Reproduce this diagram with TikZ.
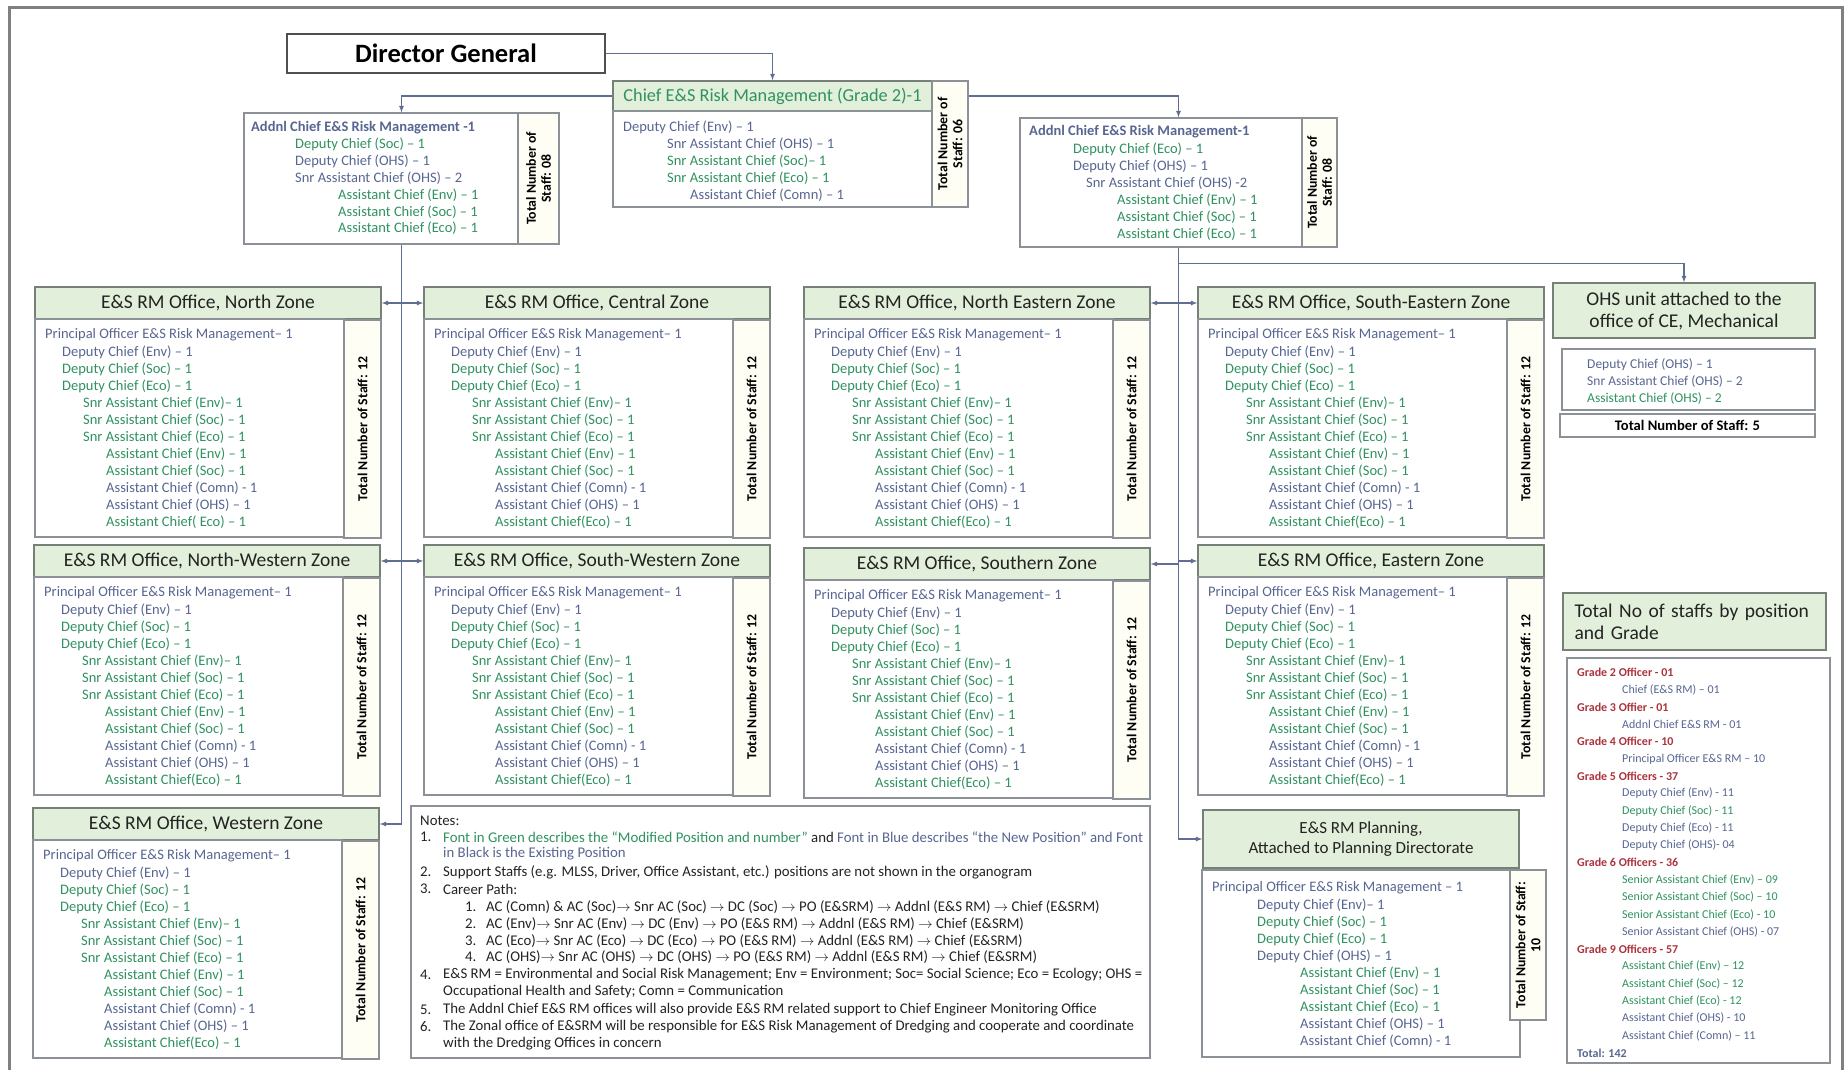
\documentclass[tikz,border=0pt]{standalone}
\usepackage{fontspec}
\setmainfont{Carlito}

\definecolor{newblue}{RGB}{88,102,146}
\definecolor{modgreen}{RGB}{48,146,96}
\definecolor{gradered}{RGB}{172,52,62}
\definecolor{hdrfill}{RGB}{226,239,218}
\definecolor{hdrline}{RGB}{118,128,118}
\definecolor{boxline}{RGB}{140,145,152}
\definecolor{wirecol}{RGB}{95,110,145}
\definecolor{darktext}{RGB}{35,35,35}

\tikzset{
  hdr/.style={draw=hdrline, fill=hdrfill, line width=1.4, text=darktext, align=center, inner sep=2,
    font=\fontsize{19.5}{22}\selectfont},
  bodybox/.style={draw=boxline, fill=white, line width=1.2},
  staffcol/.style={draw=boxline, fill=white!96!yellow, line width=1.2},
  stafftxt/.style={font=\fontsize{13.8}{15}\selectfont\bfseries, text=black, align=center, inner sep=0},
  txt/.style={anchor=west, inner sep=0, font=\fontsize{14.5}{17}\selectfont},
  wire/.style={draw=wirecol, line width=1.2, >=latex},
}

% one zonal office: header, list of posts, staff column
\newcommand{\zoneoffice}[5]{%
  \node[hdr, minimum width=346, minimum height=32] (#1) at (#2+173,#3+16) {#4};
  \node[bodybox, minimum width=309, minimum height=218] (#1-body) at (#2+154.5,#3+141) {};
  \node[staffcol, minimum width=37, minimum height=218] (#1-staff) at (#2+327.5,#3+142) {};
  \node[stafftxt, rotate=90] (#1-total) at (#1-staff) {Total Number of Staff: 12};
  \foreach \xx/\lc/\words [count=\i] in {10/newblue/Principal Officer E\&S Risk Management– 1,
      27/newblue/Deputy Chief (Env) – 1, 27/modgreen/Deputy Chief (Soc) – 1, 27/modgreen/Deputy Chief (Eco) – 1,
      48/modgreen/Snr Assistant Chief (Env)– 1, 48/modgreen/Snr Assistant Chief (Soc) – 1,
      48/modgreen/Snr Assistant Chief (Eco) – 1, 71/modgreen/Assistant Chief (Env) – 1,
      71/modgreen/Assistant Chief (Soc) – 1, 71/newblue/Assistant Chief (Comn) - 1,
      71/newblue/Assistant Chief (OHS) – 1, 71/modgreen/#5}
    \node[txt, text=\lc] (#1-\i) at (#2+\xx,#3+31+17*\i) {\words};
}

\begin{document}
\begin{tikzpicture}[x=1pt, y=-1pt]
\useasboundingbox (0,0) rectangle (1846,1070);
\draw[line width=3, draw=gray] (9,1070) -- (9,8) -- (1842,8) -- (1842,1070);

% top of the chart
\node[draw=darktext!80, fill=white, line width=1.3, minimum width=318, minimum height=39,
  font=\fontsize{26.5}{28}\selectfont\bfseries] (dg) at (446,53.5) {Director General};

\node[hdr, minimum width=319, minimum height=30, text=modgreen, font=\fontsize{18.3}{20}\selectfont]
  (chief) at (772.5,96) {Chief E\&S Risk Management (Grade 2)-1};
\node[bodybox, minimum width=319, minimum height=96] (chief-body) at (772.5,159) {};
\node[staffcol, minimum width=36, minimum height=126] (chief-staff) at (950,144) {};
\node[stafftxt, rotate=90] (chief-total) at (chief-staff) {Total Number of\\Staff: 06};
\foreach \xx/\lc/\words [count=\i] in {623/newblue/Deputy Chief (Env) – 1,
    667/newblue/Snr Assistant Chief (OHS) – 1, 667/modgreen/Snr Assistant Chief (Soc)– 1,
    667/modgreen/Snr Assistant Chief (Eco) – 1, 690/newblue/Assistant Chief (Comn) – 1}
  \node[txt, text=\lc] (chief-\i) at (\xx,110+17*\i) {\words};

% additional chiefs
\node[bodybox, minimum width=315, minimum height=131] (addnlL) at (401.5,178.5) {};
\node[staffcol, minimum width=41, minimum height=131] (addnlL-staff) at (538.5,178.5) {};
\node[stafftxt, rotate=90] (addnlL-total) at (addnlL-staff) {Total Number of\\Staff: 08};
\foreach \xx/\lc/\words [count=\i] in {251/newblue/\textbf{Addnl Chief E\&S Risk Management -1},
    295/modgreen/Deputy Chief (Soc) – 1, 295/newblue/Deputy Chief (OHS) – 1,
    295/newblue/Snr Assistant Chief (OHS) – 2, 338/modgreen/Assistant Chief (Env) – 1,
    338/modgreen/Assistant Chief (Soc) – 1, 338/modgreen/Assistant Chief (Eco) – 1}
  \node[txt, text=\lc] (addnlL-\i) at (\xx,111+16.8*\i) {\words};

\node[bodybox, minimum width=317, minimum height=129] (addnlR) at (1178.5,182.5) {};
\node[staffcol, minimum width=35, minimum height=129] (addnlR-staff) at (1319.5,182.5) {};
\node[stafftxt, rotate=90] (addnlR-total) at (addnlR-staff) {Total Number of\\Staff: 08};
\foreach \xx/\lc/\words [count=\i] in {1029/newblue/\textbf{Addnl Chief E\&S Risk Management-1},
    1073/modgreen/Deputy Chief (Eco) – 1, 1073/newblue/Deputy Chief (OHS) – 1,
    1086/newblue/Snr Assistant Chief (OHS) -2, 1117/modgreen/Assistant Chief (Env) – 1,
    1117/modgreen/Assistant Chief (Soc) – 1, 1117/modgreen/Assistant Chief (Eco) – 1}
  \node[txt, text=\lc] (addnlR-\i) at (\xx,115+17*\i) {\words};

% zonal offices
\zoneoffice{nzone}{35}{287}{E\&S RM Office, North Zone}{Assistant Chief( Eco) – 1}
\zoneoffice{czone}{424}{287}{E\&S RM Office, Central Zone}{Assistant Chief(Eco) – 1}
\zoneoffice{nezone}{804}{287}{E\&S RM Office, North Eastern Zone}{Assistant Chief(Eco) – 1}
\zoneoffice{sezone}{1198}{287}{E\&S RM Office, South-Eastern Zone}{Assistant Chief(Eco) – 1}
\zoneoffice{nwzone}{34}{545}{E\&S RM Office, North-Western Zone}{Assistant Chief(Eco) – 1}
\zoneoffice{swzone}{424}{545}{E\&S RM Office, South-Western Zone}{Assistant Chief(Eco) – 1}
\zoneoffice{szone}{804}{548}{E\&S RM Office, Southern Zone}{Assistant Chief(Eco) – 1}
\zoneoffice{ezone}{1198}{545}{E\&S RM Office, Eastern Zone}{Assistant Chief(Eco) – 1}
\zoneoffice{wzone}{33}{808}{E\&S RM Office, Western Zone}{Assistant Chief(Eco) – 1}

% OHS unit
\node[hdr, minimum width=262, minimum height=55] (ohs) at (1684,310.5) {OHS unit attached to the\\office of CE, Mechanical};
\node[bodybox, minimum width=253, minimum height=61] (ohs-body) at (1688.5,379.5) {};
\foreach \lc/\words [count=\i] in {newblue/Deputy Chief (OHS) – 1, newblue/Snr Assistant Chief (OHS) – 2,
    modgreen/Assistant Chief (OHS) – 2}
  \node[txt, text=\lc, font=\fontsize{13.5}{16}\selectfont] (ohs-\i) at (1587,348.5+16.5*\i) {\words};
\node[bodybox, minimum width=255, minimum height=23, font=\fontsize{14.6}{16}\selectfont\bfseries]
  (ohs-total) at (1687.5,425.5) {Total Number of Staff: 5};

% planning
\node[hdr, minimum width=316, minimum height=58, font=\fontsize{17}{20}\selectfont] (planning) at (1361,839)
  {E\&S RM Planning,\\Attached to Planning Directorate};
\node[bodybox, minimum width=318, minimum height=187] (planning-body) at (1361,963.5) {};
\node[staffcol, minimum width=36, minimum height=150] (planning-staff) at (1528,945) {};
\node[stafftxt, rotate=90] (planning-total) at (planning-staff) {Total Number of Staff:\\10};
\foreach \xx/\lc/\words [count=\i] in {1212/newblue/Principal Officer E\&S Risk Management – 1,
    1257/newblue/Deputy Chief (Env)– 1, 1257/modgreen/Deputy Chief (Soc) – 1,
    1257/modgreen/Deputy Chief (Eco) – 1, 1257/newblue/Deputy Chief (OHS) – 1,
    1300/modgreen/Assistant Chief (Env) – 1, 1300/modgreen/Assistant Chief (Soc) – 1,
    1300/modgreen/Assistant Chief (Eco) – 1, 1300/newblue/Assistant Chief (OHS) – 1,
    1300/newblue/Assistant Chief (Comn) - 1}
  \node[txt, text=\lc] (planning-\i) at (\xx,871+17*\i) {\words};

% totals by grade
\node[hdr, minimum width=263, minimum height=57, text width=240, align=left] (grades) at (1694.5,621.5)
  {Total No of staffs by position\\and Grade};
\node[bodybox, minimum width=263, minimum height=405] (grades-body) at (1698.5,860.5) {};
\foreach \xx/\lc/\words [count=\i] in {1577/gradered/\textbf{Grade 2 Officer - 01},
    1622/newblue/Chief (E\&S RM)  – 01, 1577/gradered/\textbf{Grade 3 Offier - 01},
    1622/newblue/Addnl Chief E\&S RM - 01, 1577/gradered/\textbf{Grade 4 Officer - 10},
    1622/newblue/Principal Officer E\&S RM  – 10, 1577/gradered/\textbf{Grade 5 Officers - 37},
    1622/newblue/Deputy Chief (Env) - 11, 1622/modgreen/Deputy Chief (Soc) - 11,
    1622/newblue/Deputy Chief (Eco) - 11, 1622/newblue/Deputy Chief (OHS)- 04,
    1577/gradered/\textbf{Grade 6 Officers - 36},
    1622/modgreen/Senior Assistant Chief (Env) – 09, 1622/modgreen/Senior Assistant Chief (Soc) – 10,
    1622/modgreen/Senior Assistant Chief (Eco) -  10, 1622/newblue/Senior Assistant Chief (OHS) - 07,
    1577/gradered/\textbf{Grade 9 Officers - 57},
    1622/modgreen/Assistant Chief (Env) – 12, 1622/modgreen/Assistant Chief (Soc) – 12,
    1622/modgreen/Assistant Chief (Eco) - 12, 1622/newblue/Assistant Chief (OHS) - 10,
    1622/newblue/Assistant Chief (Comn) – 11, 1577/newblue/\textbf{Total: 142}}
  \node[txt, text=\lc, font=\fontsize{12}{14}\selectfont] (grades-\i) at (\xx,655+17.3*\i) {\words};

% notes
\tikzset{ntxt/.style={txt, text=darktext, font=\fontsize{14.8}{17}\selectfont}}
\node[bodybox, minimum width=739, minimum height=252] (notes) at (780.5,932) {};
\node[ntxt] (notes-head) at (420,821) {Notes:};
\foreach \yy/\num [count=\i] in {837/1., 872/2., 889/3., 975/4., 1010/5., 1027/6.}
  \node[ntxt] (notes-num\i) at (420,\yy) {\num};
\foreach \yy/\num [count=\i] in {907/1., 924/2., 941/3., 957/4.}
  \node[ntxt] (path-num\i) at (465,\yy) {\num};
\node[ntxt] (notes-1) at (443,837) {{\color{modgreen}Font in Green describes the “Modified Position and number”} and
  {\color{newblue}Font in Blue describes “the New Position” and Font}};
\node[ntxt, text=newblue] (notes-1b) at (443,854) {in Black is the Existing Position};
\node[ntxt] (notes-2) at (443,872) {Support Staffs (e.g. MLSS, Driver, Office Assistant, etc.) positions are not shown in the organogram};
\node[ntxt] (notes-3) at (443,889) {Career Path:};
\node[ntxt] (path-1) at (486,907) {AC (Comn) \& AC (Soc)$\rightarrow$ Snr AC (Soc) $\rightarrow$ DC (Soc) $\rightarrow$ PO (E\&SRM) $\rightarrow$ Addnl (E\&S RM) $\rightarrow$ Chief (E\&SRM)};
\node[ntxt] (path-2) at (486,924) {AC (Env)$\rightarrow$ Snr AC (Env) $\rightarrow$ DC (Env) $\rightarrow$ PO (E\&S RM) $\rightarrow$ Addnl (E\&S RM) $\rightarrow$ Chief (E\&SRM)};
\node[ntxt] (path-3) at (486,941) {AC (Eco)$\rightarrow$ Snr AC (Eco) $\rightarrow$ DC (Eco) $\rightarrow$ PO (E\&S RM) $\rightarrow$ Addnl (E\&S RM) $\rightarrow$ Chief (E\&SRM)};
\node[ntxt] (path-4) at (486,957) {AC (OHS)$\rightarrow$ Snr AC (OHS) $\rightarrow$ DC (OHS) $\rightarrow$ PO (E\&S RM) $\rightarrow$ Addnl (E\&S RM) $\rightarrow$ Chief (E\&SRM)};
\node[ntxt] (notes-4) at (443,975) {E\&S RM = Environmental and Social Risk Management; Env = Environment; Soc= Social Science; Eco = Ecology; OHS =};
\node[ntxt] (notes-4b) at (443,992) {Occupational Health and Safety; Comn = Communication};
\node[ntxt] (notes-5) at (443,1010) {The Addnl Chief E\&S RM offices will also provide E\&S RM related support to Chief Engineer Monitoring Office};
\node[ntxt] (notes-6) at (443,1027) {The Zonal office of E\&SRM will be responsible for E\&S Risk Management of Dredging and cooperate and coordinate};
\node[ntxt] (notes-6b) at (443,1044) {with the Dredging Offices in concern};

% connectors
\draw[wire,->] (dg.east) -| (chief.north);
\draw[wire,->] (chief.west) -| (addnlL.north);
\draw[wire,->] (chief-staff.east |- chief.east) -| (addnlR.north);
\draw[wire,->] (addnlL.south) |- (wzone.east);
\draw[wire,->] (nzone.east -| addnlL.south) -- (nzone.east);
\draw[wire,->] (czone.west -| addnlL.south) -- (czone.west);
\draw[wire,->] (nwzone.east -| addnlL.south) -- (nwzone.east);
\draw[wire,->] (swzone.west -| addnlL.south) -- (swzone.west);
\draw[wire,->] (addnlR.south) |- (planning.west);
\draw[wire,->] (addnlR.south) ++(0,16) -| (ohs.north);
\draw[wire,->] (nezone.east -| addnlR.south) -- (nezone.east);
\draw[wire,->] (sezone.west -| addnlR.south) -- (sezone.west);
\draw[wire,->] (szone.east -| addnlR.south) -- (szone.east);
\draw[wire,->] (ezone.west -| addnlR.south) -- (ezone.west);
\end{tikzpicture}
\end{document}
